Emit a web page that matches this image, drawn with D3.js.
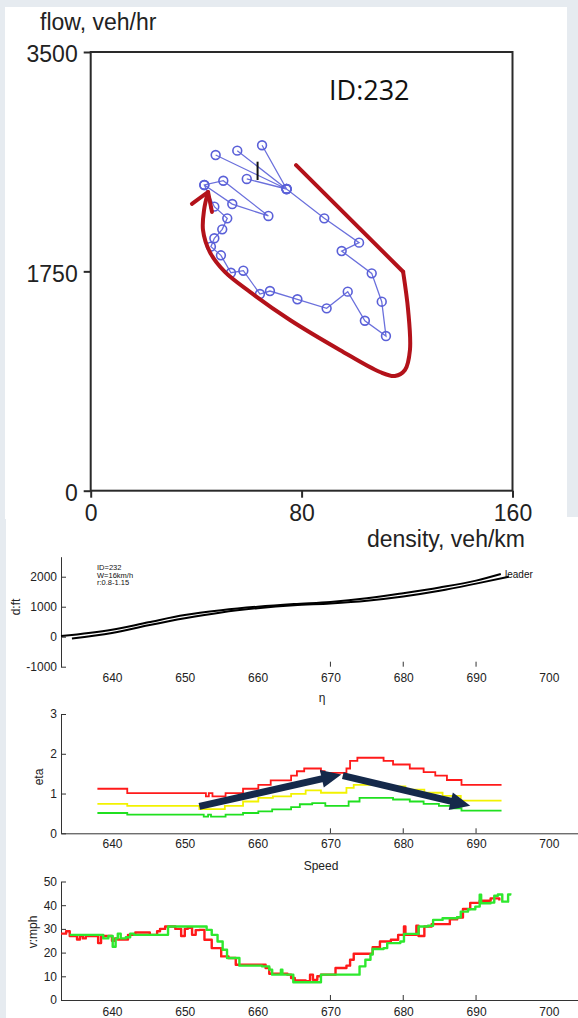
<!DOCTYPE html>
<html>
<head>
<meta charset="utf-8">
<script src="https://cdn.jsdelivr.net/npm/d3@7"></script>
<style>
html, body { margin: 0; padding: 0; background: #e6ebf0; }
svg { display: block; }
</style>
</head>
<body>
<svg id="chart" width="578" height="1018"></svg>
<script>
// ---- flow / density loop ----
const qkTicksX = [0, 80, 160];
const qkTicksY = [0, 1750, 3500];
const density = [47.4, 74.3, 55.6, 74.3, 65.0, 74.3, 59.2, 74.3, 88.6, 101.8, 95.2, 106.6, 110.4, 112.0, 104.0, 97.5,
  89.5, 78.4, 68.0, 64.2, 57.9, 53.2, 49.4, 45.6, 46.9, 49.9, 51.8, 46.9, 43.1, 50.3, 67.4, 53.7, 43.1];
const flow = [2678, 2407, 2713, 2407, 2756, 2407, 2487, 2407, 2173, 1979, 1912, 1734, 1508, 1234, 1356, 1588,
  1455, 1527, 1593, 1569, 1755, 1739, 1878, 1947, 2014, 2085, 2173, 2266, 2439, 2473, 2192, 2287, 2439];
const markK = [63.3, 63.3];
const markQ = [2479, 2625];
// hand drawn red outline (density, flow)
const outlineEdge = [[77.9, 2597], [118.5, 1747]];
const outlineCurve = [[118.5, 1747], [120.4, 1442], [121.1, 1123], [119.2, 963], [115.4, 915], [109.7, 947],
  [94.5, 1123], [75.6, 1362], [60.4, 1586], [50.9, 1745], [45.2, 1904], [42.6, 2080], [43.0, 2240], [44.5, 2383]];
const outlineHead = [[38.4, 2288], [44.5, 2383], [46.0, 2224]];

// ---- time axes ----
const timeTicks = [640, 650, 660, 670, 680, 690, 700];
const markedTicks = [670, 680, 690];

// d:ft trajectories
const dTicks = [-1000, 0, 1000, 2000];
const trajLeader = [[633, 20], [640, 230], [645, 480], [650, 720], [655, 880], [660, 1000], [665, 1090],
  [670, 1160], [675, 1280], [680, 1450], [685, 1640], [690, 1870], [693.4, 2090]];
const trajFollower = [[634.5, -60], [640, 120], [645, 380], [650, 615], [655, 810], [660, 950], [665, 1050],
  [670, 1110], [675, 1200], [680, 1340], [685, 1530], [690, 1770], [694.5, 2000]];
const dNotes = ['ID=232', 'W=16km/h', 'r:0.8-1.15'];

// eta
const etaTicks = [0, 1, 2, 3];
const etaRed = [[638, 1.12], [642.1, 1.01], [652.6, 1.01], [652.9, 0.93], [653.3, 1.01], [653.8, 0.93],
  [655.6, 1.01], [658, 1.12], [660.1, 1.22], [661.8, 1.33], [664.6, 1.45], [665.4, 1.56], [666.4, 1.63],
  [668.7, 1.56], [669.2, 1.52], [672.2, 1.63], [672.7, 1.82], [673.7, 1.9], [677.3, 1.82], [678.6, 1.73],
  [680.9, 1.63], [682.8, 1.54], [684.4, 1.45], [686, 1.34], [688, 1.22], [693.5, 1.22]];
const etaYellow = [[638, 0.74], [642.1, 0.69], [652, 0.61], [655.5, 0.69], [658, 0.8], [660.1, 0.89],
  [662.1, 0.93], [664.6, 0.99], [666.6, 1.08], [668.7, 1.02], [672.2, 1.14], [673.2, 1.22], [677.3, 1.18],
  [680.3, 1.1], [682.9, 1.02], [685.4, 0.94], [687.9, 0.82], [693.5, 0.82]];
const etaGreen = [[638, 0.51], [642.1, 0.47], [652.6, 0.42], [653.2, 0.47], [653.6, 0.42], [655.6, 0.47],
  [658, 0.51], [660.1, 0.55], [662, 0.6], [664.6, 0.66], [665.8, 0.73], [667.5, 0.76], [669.3, 0.69],
  [672.5, 0.8], [674, 0.89], [678.6, 0.85], [680.9, 0.8], [682.8, 0.74], [684.9, 0.69], [686.7, 0.63],
  [688, 0.57], [693.5, 0.57]];
const etaArrows = [[[652, 0.675], [671.5, 1.48]], [[671.7, 1.45], [689.2, 0.69]]];

// speed
const speedTicks = [0, 10, 20, 30, 40, 50];
const speedRed = [[633, 28], [633.7, 29], [634.2, 27], [635.2, 25.5], [635.6, 27], [636, 26], [636.4, 27],
  [637.7, 27], [638.1, 24], [638.5, 27], [639.5, 27], [640, 25], [640.4, 26], [640.8, 25.5], [641.8, 25.5],
  [642.2, 27.5], [643.2, 28.5], [644.5, 28.5], [645.2, 27.5], [645.9, 27.5], [646.2, 29], [646.6, 30],
  [647.3, 31], [648, 31], [648.7, 30], [649.1, 30], [649.5, 27], [650, 30], [650.4, 30.5], [651, 27.5],
  [651.5, 29.5], [652, 29.6], [652.7, 25.4], [653.7, 21.9], [655, 18.4], [656, 17.7], [657, 14.9],
  [660.1, 14.9], [661.1, 13.5], [661.6, 11.1], [664.1, 10.7], [664.6, 9.3], [665.1, 8.3], [666.6, 7.9],
  [667.2, 10.7], [667.6, 8.5], [668.2, 10], [668.7, 10.7], [670.2, 10.7], [670.7, 13.5], [672.2, 14.5],
  [672.7, 17], [673.2, 19.5], [675.3, 19.5], [675.8, 22.3], [676.8, 24.7], [678.3, 25.4], [679.3, 27.5],
  [680.1, 31], [680.3, 27.5], [681.3, 27.5], [681.8, 31.3], [682.1, 27], [682.9, 31], [683.9, 32],
  [685.4, 32], [686.4, 34], [687.4, 34.8], [688.2, 38.4], [689.2, 41], [690.5, 41.9], [692, 42.9], [693.2, 42]];
const speedGreen = [[634.2, 27.5], [638.1, 27.5], [638.8, 26], [639.5, 27], [640.1, 22.5], [640.5, 26],
  [640.8, 28], [641.2, 26], [641.9, 26.5], [642.5, 28], [643, 27.5], [647.3, 27.5], [647.7, 31], [652.1, 31],
  [653, 29.6], [653.7, 27.5], [654.5, 24.7], [655.2, 21.2], [655.8, 17.7], [657.3, 17.7], [657.5, 14.5],
  [660.6, 14.2], [661.6, 12.8], [662, 10.7], [663.1, 10.7], [663.2, 12.8], [663.4, 10.7], [664.4, 10.7],
  [664.9, 7.5], [668.4, 7.5], [668.7, 10.7], [673.5, 10.7], [674, 14.2], [674.8, 17], [675.5, 19.2],
  [675.8, 21.5], [677.3, 21.9], [677.8, 24], [679.6, 24.7], [680.1, 27.9], [681.3, 27.9], [682.1, 31],
  [683.4, 31.3], [684.1, 33.8], [685.4, 34.5], [687.4, 34.9], [687.9, 37.3], [688.9, 38.3], [689.9, 39.4],
  [690.5, 44.4], [690.7, 40.8], [692, 41.1], [692.5, 44], [693, 44.5], [693.6, 41.5], [694.4, 44.5], [694.7, 45]];

const FONT = 'Liberation Sans, Arial, sans-serif';
const svg = d3.select('#chart');

// page background (slide look)
svg.append('rect').attr('width', 578).attr('height', 1018).attr('fill', '#e6ebf0');
svg.append('rect').attr('x', 5).attr('y', 7).attr('width', 562).attr('height', 512).attr('fill', '#fff');
svg.append('rect').attr('x', 6).attr('y', 517).attr('width', 572).attr('height', 501).attr('fill', '#fff');

// ================= top: flow vs density =================
const xq = d3.scaleLinear().domain([0, 160]).range([90.7, 512.5]);
const yq = d3.scaleLinear().domain([0, 3500]).range([490.7, 52]);
const topG = svg.append('g');

topG.append('rect')
  .attr('x', xq(0)).attr('y', yq(3500))
  .attr('width', xq(160) - xq(0)).attr('height', yq(0) - yq(3500))
  .attr('fill', 'none').attr('stroke', '#2a2a2a').attr('stroke-width', 2);

function styleBig(g) {
  g.select('.domain').remove();
  g.selectAll('.tick line').attr('stroke', '#2a2a2a').attr('stroke-width', 2);
  g.selectAll('.tick text').attr('font-family', FONT).attr('font-size', 23).attr('fill', '#222');
}
topG.append('g').attr('transform', `translate(0,${yq(0)})`)
  .call(d3.axisBottom(xq).tickValues(qkTicksX).tickSize(7).tickPadding(7).tickFormat(d => String(d)))
  .call(styleBig);
topG.append('g').attr('transform', `translate(${xq(0)},0)`)
  .call(d3.axisLeft(yq).tickValues(qkTicksY).tickSize(7).tickPadding(6).tickFormat(d => String(d)))
  .call(styleBig)
  .selectAll('.tick text').attr('dy', '0.42em');

topG.append('text').attr('x', 40).attr('y', 30).attr('font-family', FONT).attr('font-size', 23)
  .attr('fill', '#222').text('flow, veh/hr');
topG.append('text').attr('x', 525).attr('y', 547).attr('text-anchor', 'end').attr('font-family', FONT)
  .attr('font-size', 23).attr('fill', '#222').text('density, veh/km');
topG.append('text').attr('x', 329).attr('y', 100).attr('font-family', 'Open Sans, sans-serif')
  .attr('font-size', 27).attr('fill', '#111').text('ID:232');

const qkLine = d3.line().x((d, i) => xq(density[i])).y((d, i) => yq(flow[i]));
topG.append('path').attr('d', qkLine(density))
  .attr('fill', 'none').attr('stroke', '#6b70dc').attr('stroke-width', 1.3);
topG.selectAll('circle.pt').data(density).join('circle').attr('class', 'pt')
  .attr('cx', d => xq(d)).attr('cy', (d, i) => yq(flow[i])).attr('r', 4.4)
  .attr('fill', 'none').attr('stroke', '#5a60d8').attr('stroke-width', 1.6);
topG.append('line')
  .attr('x1', xq(markK[0])).attr('x2', xq(markK[1]))
  .attr('y1', yq(markQ[0])).attr('y2', yq(markQ[1]))
  .attr('stroke', '#111').attr('stroke-width', 2);

const outLine = d3.line().x(d => xq(d[0])).y(d => yq(d[1]));
const red = '#b3121a';
topG.append('path').attr('d', outLine(outlineEdge))
  .attr('fill', 'none').attr('stroke', red).attr('stroke-width', 4).attr('stroke-linecap', 'round');
topG.append('path').attr('d', d3.line().x(d => xq(d[0])).y(d => yq(d[1])).curve(d3.curveCatmullRom)(outlineCurve))
  .attr('fill', 'none').attr('stroke', red).attr('stroke-width', 4).attr('stroke-linecap', 'round');
topG.append('path').attr('d', outLine(outlineHead))
  .attr('fill', 'none').attr('stroke', red).attr('stroke-width', 4)
  .attr('stroke-linecap', 'round').attr('stroke-linejoin', 'round');

// ================= shared time scale =================
const xt = d3.scaleLinear().domain([633, 704]).range([61, 578]);

function smallAxisStyle(g) {
  g.selectAll('.tick text').attr('font-family', FONT).attr('font-size', 12).attr('fill', '#222');
  g.selectAll('line, path').attr('stroke', '#333');
}
function timeAxis(yPos, pad, keepDomain) {
  const g = svg.append('g').attr('transform', `translate(0,${yPos})`)
    .call(d3.axisBottom(xt).tickValues(timeTicks).tickSize(0).tickSizeOuter(0).tickPadding(pad)
      .tickFormat(d => String(d)))
    .call(smallAxisStyle);
  if (!keepDomain) g.select('.domain').remove();
  g.selectAll('line.mk').data(markedTicks).join('line').attr('class', 'mk')
    .attr('x1', d => xt(d)).attr('x2', d => xt(d)).attr('y1', 0).attr('y2', -5)
    .attr('stroke', '#333');
  return g;
}
function valueAxis(scale, ticks) {
  return svg.append('g').attr('transform', `translate(${xt(633)},0)`)
    .call(d3.axisLeft(scale).tickValues(ticks).tickSizeInner(-5).tickSizeOuter(0).tickPadding(4)
      .tickFormat(d => String(d)))
    .call(smallAxisStyle);
}
function sideLabel(x, y, txt) {
  svg.append('text').attr('transform', `translate(${x},${y}) rotate(-90)`).attr('text-anchor', 'middle')
    .attr('font-family', FONT).attr('font-size', 12).attr('fill', '#222').text(txt);
}

// ================= d:ft =================
const yd = d3.scaleLinear().domain([-1000, 2667]).range([666.7, 556.7]);
valueAxis(yd, dTicks);
timeAxis(yd(-1000), 7, false);
sideLabel(20, 607, 'd:ft');
svg.append('text').attr('x', 322).attr('y', 702).attr('text-anchor', 'middle')
  .attr('font-family', FONT).attr('font-size', 12).attr('fill', '#222').text('η');
const dLine = d3.line().x(d => xt(d[0])).y(d => yd(d[1])).curve(d3.curveMonotoneX);
[trajLeader, trajFollower].forEach(s => {
  svg.append('path').attr('d', dLine(s)).attr('fill', 'none').attr('stroke', '#000').attr('stroke-width', 2);
});
svg.append('text').attr('x', 505).attr('y', 578).attr('font-family', FONT).attr('font-size', 10)
  .attr('fill', '#111').text('leader');
svg.selectAll('text.note').data(dNotes).join('text').attr('class', 'note')
  .attr('x', 97).attr('y', (d, i) => 570 + i * 7.5)
  .attr('font-family', FONT).attr('font-size', 7.5).attr('fill', '#111').text(d => d);

// ================= eta =================
const ye = d3.scaleLinear().domain([0, 3]).range([833.3, 714]);
valueAxis(ye, etaTicks);
timeAxis(ye(0), 6, true);
sideLabel(43, 777, 'eta');
const eLine = d3.line().x(d => xt(d[0])).y(d => ye(d[1])).curve(d3.curveStepAfter);
[[etaRed, '#ff1a1a'], [etaYellow, '#f2f200'], [etaGreen, '#1fe01f']].forEach(([s, c]) => {
  svg.append('path').attr('d', eLine(s)).attr('fill', 'none').attr('stroke', c).attr('stroke-width', 1.8);
});
etaArrows.forEach(([a, b]) => {
  const x0 = xt(a[0]), y0 = ye(a[1]), x1 = xt(b[0]), y1 = ye(b[1]);
  const len = Math.hypot(x1 - x0, y1 - y0), ux = (x1 - x0) / len, uy = (y1 - y0) / len;
  const head = 20, half = 9, bx = x1 - ux * head, by = y1 - uy * head;
  svg.append('line').attr('x1', x0).attr('y1', y0).attr('x2', bx + ux * 2).attr('y2', by + uy * 2)
    .attr('stroke', '#15294a').attr('stroke-width', 7);
  svg.append('path')
    .attr('d', `M${x1},${y1}L${bx - uy * half},${by + ux * half}L${bx + uy * half},${by - ux * half}Z`)
    .attr('fill', '#15294a');
});

// ================= speed =================
const yv = d3.scaleLinear().domain([0, 50]).range([1000, 881.5]);
valueAxis(yv, speedTicks);
timeAxis(yv(0), 7, true);
sideLabel(37, 932, 'v:mph');
svg.append('text').attr('x', 321).attr('y', 870).attr('text-anchor', 'middle')
  .attr('font-family', FONT).attr('font-size', 12).attr('fill', '#222').text('Speed');
const vLine = d3.line().x(d => xt(d[0])).y(d => yv(d[1])).curve(d3.curveStepAfter);
[[speedRed, '#ff1a1a'], [speedGreen, '#2ee82e']].forEach(([s, c]) => {
  svg.append('path').attr('d', vLine(s)).attr('fill', 'none').attr('stroke', c)
    .attr('stroke-width', 2.4).attr('stroke-linejoin', 'round');
});
</script>
</body>
</html>
